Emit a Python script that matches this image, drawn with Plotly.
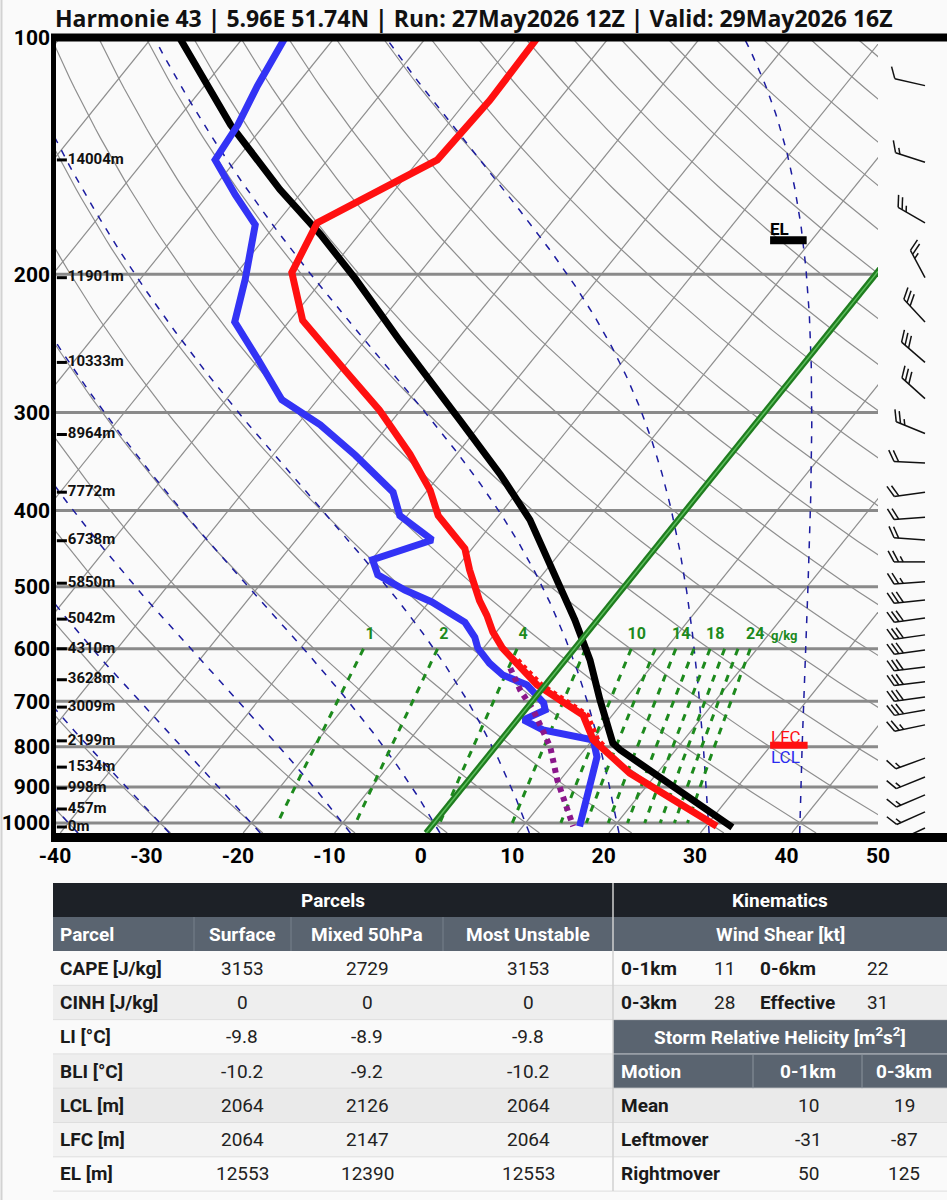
import numpy as np
import plotly.graph_objects as go

# ---------------- data ----------------
title = "Harmonie 43 | 5.96E 51.74N | Run: 27May2026 12Z | Valid: 29May2026 16Z"

temp_p = [100, 120, 143, 172, 199, 229, 265, 298, 339, 377, 406, 447, 476, 521, 544, 571,
          599, 629, 667, 701, 729, 784, 800, 864, 1010]
temp_T = [-57.8, -57.5, -58.0, -65.6, -64.0, -58.6, -49.6, -42.3, -35.1, -29.7, -26.6, -20.8,
          -18.4, -14.6, -12.5, -10.4, -7.9, -4.8, -0.9, 3.4, 6.8, 10.1, 11.5, 17.0, 31.2]

virt_p = [620, 629, 667, 701, 729, 784, 800]
virt_T = [-5.2, -4.3, -0.4, 3.9, 7.3, 10.6, 12.0]

dew_p = [100, 115, 129, 143, 158.5, 173, 203, 230, 257, 289, 311, 340, 379, 406, 436, 462, 483,
         505, 523, 555, 580, 599, 626, 648, 667, 703, 718, 739, 761, 784, 824, 900, 1010]
dew_T = [-85.4, -84.2, -82.9, -82.3, -77.0, -72.2, -68.5, -65.9, -60.0, -53.9, -47.5, -41.0,
         -33.6, -30.8, -25.1, -29.9, -28.0, -23.7, -19.7, -14.3, -11.9, -10.6, -8.0, -5.5, -2.0,
         1.4, 2.2, 0.7, 3.7, 10.1, 12.0, 13.9, 16.2]

parcel_p = [100, 129, 156, 178, 203, 243, 307, 360, 411, 483, 551, 620, 697, 791, 807, 1013]
parcel_T = [-96.9, -83.7, -72.6, -64.2, -56.4, -46.2, -32.6, -23.4, -16.2, -8.6, -2.5, 2.7,
            7.3, 12.5, 13.9, 33.0]

wetbulb_p = [635, 677, 718, 768, 800, 882, 971, 1010]
wetbulb_T = [-5.3, -2.3, 0.9, 4.0, 6.0, 9.7, 13.7, 15.5]

p_ticks = [100, 200, 300, 400, 500, 600, 700, 800, 900, 1000]
t_ticks = [-40, -30, -20, -10, 0, 10, 20, 30, 40, 50]

hgt_labels = ["14004m", "11901m", "10333m", "8964m", "7772m", "6738m", "5850m", "5042m",
              "4310m", "3628m", "3009m", "2199m", "1534m", "998m", "457m", "0m"]
hgt_p = [143, 202, 259, 320, 379, 437, 495, 550, 600, 657, 712, 786, 849, 903, 960, 1012]

mix_ratios = [1, 2, 4, 7, 10, 12, 14, 16, 18, 20, 22, 24]
mix_labelled = [1, 2, 4, 10, 14, 18, 24]
moist_T1000 = [-40, -30, -20, -10, 0, 10, 20, 30, 40]

el_p = 181
lfc_p = 796

barb_p = [115, 144, 172, 202, 230, 259, 288, 319, 348, 379, 408, 436, 465, 493, 520, 548,
          576, 602, 633, 661, 691, 718, 750, 827, 874, 921, 968, 1015]
barb_dir = [283, 288, 300, 332, 317, 311, 312, 292, 273, 262, 266, 274, 270, 266, 264, 262,
            262, 262, 263, 263, 262, 260, 258, 250, 248, 247, 246, 245]
barb_spd = [10, 15, 25, 25, 30, 30, 30, 25, 20, 20, 20, 20, 25, 25, 30, 30,
            30, 30, 30, 30, 30, 30, 25, 15, 15, 15, 15, 10]

# table
param_labels = ["CAPE [J/kg]", "CINH [J/kg]", "LI [°C]", "BLI [°C]", "LCL [m]", "LFC [m]", "EL [m]"]
parcel_cols = ["Surface", "Mixed 50hPa", "Most Unstable"]
val_surface = ["3153", "0", "-9.8", "-10.2", "2064", "2064", "12553"]
val_mixed = ["2729", "0", "-8.9", "-9.2", "2126", "2147", "12390"]
val_mu = ["3153", "0", "-9.8", "-10.2", "2064", "2064", "12553"]
shear_rows = [("0-1km", "11", "0-6km", "22"), ("0-3km", "28", "Effective", "31")]
srh_motion = ["Mean", "Leftmover", "Rightmover"]
srh_01 = ["10", "-31", "50"]
srh_03 = ["19", "-87", "125"]

# ---------------- geometry ----------------
W, H = 947, 1200
PL, PR, PT, PB = 55, 878, 38, 833
P_TOP, P_BOT = 100.0, 1030.0
SKEW, P_REF = 30.0, 1050.0
KPX = (PB - PT) / np.log(P_BOT / P_TOP)
BG = "#fafafa"


def sx(T, p):
    return np.asarray(T, float) + SKEW * np.log(P_REF / np.asarray(p, float))


fig = go.Figure()


def add_line(x, y, color, width, dash=None, xaxis="x", opacity=1.0):
    fig.add_trace(go.Scatter(x=list(x), y=list(y), mode="lines", xaxis=xaxis, yaxis="y",
                             line=dict(color=color, width=width, dash=dash),
                             opacity=opacity, hoverinfo="skip", connectgaps=False))


def joined(segs):
    xs, ys = [], []
    for x, y in segs:
        xs += list(x) + [None]
        ys += list(y) + [None]
    return xs, ys


# isotherms
segs = []
for T in range(-150, 51, 10):
    pp = np.array([P_TOP, P_BOT])
    segs.append((sx([T, T], pp), pp))
xs, ys = joined(segs)
add_line(xs, ys, "#8e8e8e", 1.2)

# dry adiabats
pp = np.geomspace(P_TOP, P_BOT, 80)
segs = []
for T0 in range(-60, 311, 10):
    th = T0 + 273.15
    T = th * (pp / 1000.0) ** 0.2857 - 273.15
    segs.append((sx(T, pp), pp))
xs, ys = joined(segs)
add_line(xs, ys, "#8e8e8e", 1.2)

# isobars
segs = [([-40, 50], [p, p]) for p in p_ticks[1:]]
xs, ys = joined(segs)
add_line(xs, ys, "#8a8a8a", 3)


# moist adiabats
def es(TK):
    return 6.112 * np.exp(17.67 * (TK - 273.15) / (TK - 29.65))


def dTdp(p, TK):
    Rd, cp, eps = 287.04, 1004.0, 0.622
    Lv = 2.501e6 - 2370.0 * (TK - 273.15)
    rs = eps * es(TK) / p
    return ((Rd * TK + Lv * rs) / p) / (cp + Lv * Lv * rs * eps / (Rd * TK * TK))


def integrate(T0, p0, p1, n):
    ps = np.linspace(p0, p1, n)
    Ts = [T0]
    for i in range(n - 1):
        h = ps[i + 1] - ps[i]
        p, T = ps[i], Ts[-1]
        k1 = dTdp(p, T)
        k2 = dTdp(p + h / 2, T + h / 2 * k1)
        k3 = dTdp(p + h / 2, T + h / 2 * k2)
        k4 = dTdp(p + h, T + h * k3)
        Ts.append(T + h / 6 * (k1 + 2 * k2 + 2 * k3 + k4))
    return ps, np.array(Ts)


segs = []
for T0 in moist_T1000:
    pu, Tu = integrate(T0 + 273.15, 1000.0, P_TOP, 400)
    pd, Td = integrate(T0 + 273.15, 1000.0, P_BOT, 20)
    p_all = np.concatenate([pd[::-1], pu[1:]])
    T_all = np.concatenate([Td[::-1], Tu[1:]]) - 273.15
    segs.append((sx(T_all, p_all), p_all))
xs, ys = joined(segs)
add_line(xs, ys, "#1c1ca0", 1.5, dash="7px,8px")


# mixing ratio lines
def td_from_w(w, p):
    e = w * p / (622.0 + w)
    a = np.log(e / 6.112)
    return 243.5 * a / (17.67 - a)


GREEN = "#1d8a1d"
pm = np.linspace(600, 1000, 20)
segs = [(sx(td_from_w(w, pm), pm), pm) for w in mix_ratios]
xs, ys = joined(segs)
add_line(xs, ys, GREEN, 3, dash="7px,7px")

# profiles
add_line(sx(parcel_T, parcel_p), parcel_p, "#000000", 7)
add_line(sx(dew_T, dew_p), dew_p, "#3333f5", 7)
add_line(sx(wetbulb_T, wetbulb_p), wetbulb_p, "#8b168b", 6, dash="5px,5px")
add_line(sx(virt_T, virt_p), virt_p, "#ff1010", 5, dash="4px,4px")
add_line(sx(temp_T, temp_p), temp_p, "#ff1010", 7)

# 0 C isotherm
p0 = np.array([P_TOP, P_BOT])
add_line(sx([0, 0], p0), p0, "#1f7d1f", 6)
add_line(sx([0, 0], p0), p0, "#5cbf5c", 1.5)

# height markers
for lab, p in zip(hgt_labels, hgt_p):
    add_line([-39.8, -38.7], [p, p], "#000", 3)
fig.add_trace(go.Scatter(x=[-38.6] * len(hgt_p), y=hgt_p, mode="text", text=hgt_labels,
                         textposition="middle right", hoverinfo="skip", cliponaxis=False,
                         textfont=dict(family="Roboto", size=15, color="#111", weight="bold")))

# mixing ratio labels
pl = 577.0
fig.add_trace(go.Scatter(x=list(sx(td_from_w(np.array(mix_labelled, float), pl), pl)),
                         y=[pl] * len(mix_labelled), mode="text",
                         text=[str(w) for w in mix_labelled], textposition="middle center",
                         hoverinfo="skip", cliponaxis=False,
                         textfont=dict(family="Roboto", size=16, color=GREEN, weight="bold")))


def data_text(x, p, s, color, size, bold=False):
    fig.add_annotation(x=x, y=np.log10(p), xref="x", yref="y", text=("<b>%s</b>" % s) if bold else s,
                       showarrow=False, xanchor="center", yanchor="middle",
                       font=dict(family="Roboto", size=size, color=color))


data_text(39.8, pl, "g/kg", GREEN, 13, bold=True)

# EL / LFC / LCL markers
add_line([38.2, 42.2], [el_p, el_p], "#000", 8)
add_line([38.2, 42.3], [lfc_p, lfc_p], "#ff1010", 7)
data_text(39.2, el_p * 0.967, "EL", "#000", 17, bold=True)
data_text(39.9, lfc_p * 0.976, "LFC", "#ff1010", 17)
data_text(39.9, lfc_p * 1.035, "LCL", "#2a2af0", 17)


# wind barbs (x2 axis in pixel units)
def barb(p0, spd, ddeg):
    x0 = 925.0
    L, FL, SP = 31.0, 12.5, 4.6
    d = np.radians(ddeg)
    ux, uy = np.sin(d), -np.cos(d)
    nx, ny = -uy, ux
    a = np.radians(62)
    fx, fy = nx * np.sin(a) + ux * np.cos(a), ny * np.sin(a) + uy * np.cos(a)
    out = [((x0, x0 + L * ux), (0.0, L * uy))]
    s = int(round(spd / 5.0)) * 5
    pos = L
    while s >= 10:
        bx, by = x0 + pos * ux, pos * uy
        out.append(((bx, bx + FL * fx), (by, by + FL * fy)))
        pos -= SP
        s -= 10
    if s >= 5:
        if pos == L:
            pos -= SP
        bx, by = x0 + pos * ux, pos * uy
        out.append(((bx, bx + FL * 0.5 * fx), (by, by + FL * 0.5 * fy)))
    res = []
    for xx, yy in out:
        res.append((xx, [p0 * np.exp(v / KPX) for v in yy]))
    return res


segs = []
for p, s, dd in zip(barb_p, barb_spd, barb_dir):
    segs += barb(p, s, dd)
xs, ys = joined(segs)
add_line(xs, ys, "#111", 1.5, xaxis="x2")

fig.update_layout(
    width=W, height=H, margin=dict(l=0, r=0, t=0, b=0, autoexpand=False),
    paper_bgcolor=BG, plot_bgcolor=BG, showlegend=False,
    xaxis=dict(domain=[PL / W, PR / W], range=[-40, 50], showgrid=False, zeroline=False,
               showline=False, ticks="", tickvals=t_ticks, automargin=False,
               ticktext=["<b>%d</b>" % t for t in t_ticks], ticklabelstandoff=8,
               tickfont=dict(family="Roboto", size=21, color="#000"), fixedrange=True),
    xaxis2=dict(domain=[PR / W, 1.0], range=[PR, W], visible=False, anchor="y",
                automargin=False, fixedrange=True),
    yaxis=dict(domain=[1 - PB / H, 1 - PT / H], type="log", automargin=False,
               range=[np.log10(P_BOT), np.log10(P_TOP)], showgrid=False, zeroline=False,
               showline=False, ticks="", tickvals=p_ticks,
               ticktext=["<b>%d</b>" % p for p in p_ticks], ticklabelstandoff=4,
               tickfont=dict(family="Roboto", size=21, color="#000"), fixedrange=True),
)


def hline(x0, x1, y, color, width):
    fig.add_shape(type="line", xref="paper", yref="paper", x0=x0 / W, x1=x1 / W,
                  y0=1 - y / H, y1=1 - y / H, line=dict(color=color, width=width))


def vline(x, y0, y1, color, width):
    fig.add_shape(type="line", xref="paper", yref="paper", x0=x / W, x1=x / W,
                  y0=1 - y0 / H, y1=1 - y1 / H, line=dict(color=color, width=width))


def rect(x0, y0, x1, y1, color):
    fig.add_shape(type="rect", xref="paper", yref="paper", x0=x0 / W, x1=x1 / W,
                  y0=1 - y0 / H, y1=1 - y1 / H, fillcolor=color, line=dict(width=0))


def text(x, y, s, anchor="center", bold=False, color="#222", size=19, family="Roboto"):
    fig.add_annotation(x=x / W, y=1 - y / H, xref="paper", yref="paper", xanchor=anchor,
                       yanchor="middle", text=("<b>%s</b>" % s) if bold else s,
                       showarrow=False, font=dict(family=family, size=size, color=color))


# frame
vline(1.5, 0, H, "#d2d2d2", 2)
hline(51, W, 37.5, "#000", 8)
hline(51, W, 837.5, "#000", 9)
vline(53.5, 34, 842, "#000", 5)

# title
text(53, 18, title, anchor="left", bold=True, color="#111", size=23, family="Open Sans")

# ---------------- table ----------------
TL, TR, SEP = 53, W, 613
r_h1, r_h2 = 883, 917
r0 = 951
RH = 34.3
DARK, SLATE = "#1d2127", "#5a6470"
row_bg = ["#fafafa", "#eeeeee", "#fafafa", "#eeeeee", "#eaeaea", "#f3f3f3", "#fafafa"]

rect(TL, r_h1, TR, r_h2, DARK)
rect(TL, r_h2, TR, r0, SLATE)
for i, c in enumerate(row_bg):
    rect(TL, r0 + i * RH, TR, r0 + (i + 1) * RH, c)
rect(SEP, r0 + 2 * RH, TR, r0 + 4 * RH, SLATE)
for i in range(1, 8):
    hline(TL, TR, r0 + i * RH, "#dedede", 1)
hline(SEP, TR, r0 + 3 * RH, "#8a939c", 1)
vline(SEP, r_h1, r0 + 7 * RH, "#d0d0d0", 1.5)
for x in (194, 291, 443):
    vline(x, r_h2, r0, "#76808b", 1)
for x in (753, 862):
    vline(x, r0 + 3 * RH, r0 + 4 * RH, "#8a939c", 1)

text(333, (r_h1 + r_h2) / 2, "Parcels", bold=True, color="#fff")
text(780, (r_h1 + r_h2) / 2, "Kinematics", bold=True, color="#fff")
ym2 = (r_h2 + r0) / 2
text(58, ym2, "Parcel", anchor="left", bold=True, color="#fff")
for cx, lab in zip((242, 367, 528), parcel_cols):
    text(cx, ym2, lab, bold=True, color="#fff")
text(780, ym2, "Wind Shear [kt]", bold=True, color="#fff")

for i, lab in enumerate(param_labels):
    yc = r0 + (i + 0.5) * RH
    text(58, yc, lab, anchor="left", bold=True, color="#1a1a1a")
    text(242, yc, val_surface[i])
    text(367, yc, val_mixed[i])
    text(528, yc, val_mu[i])

for i, (a1, v1, a2, v2) in enumerate(shear_rows):
    yc = r0 + (i + 0.5) * RH
    text(619, yc, a1, anchor="left", bold=True, color="#1a1a1a")
    text(724, yc, v1)
    text(758, yc, a2, anchor="left", bold=True, color="#1a1a1a")
    text(877, yc, v2)

text(780, r0 + 2.5 * RH, "Storm Relative Helicity [m<sup>2</sup>s<sup>2</sup>]", bold=True, color="#fff")
text(619, r0 + 3.5 * RH, "Motion", anchor="left", bold=True, color="#fff")
text(808, r0 + 3.5 * RH, "0-1km", bold=True, color="#fff")
text(904, r0 + 3.5 * RH, "0-3km", bold=True, color="#fff")
for i, m in enumerate(srh_motion):
    yc = r0 + (i + 4.5) * RH
    text(619, yc, m, anchor="left", bold=True, color="#1a1a1a")
    text(808, yc, srh_01[i])
    text(904, yc, srh_03[i])

fig.write_html("out.html")
